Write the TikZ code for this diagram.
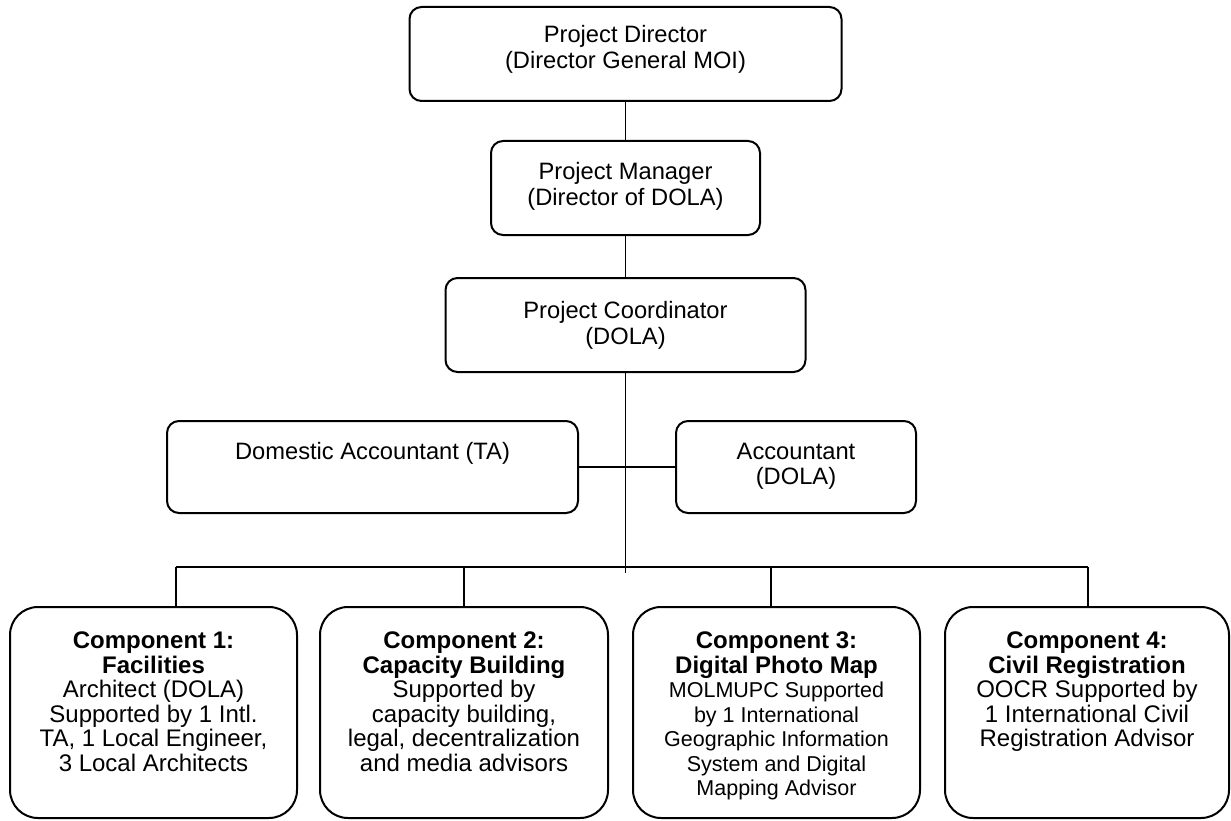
\documentclass[tikz,border=0pt]{standalone}
\usepackage{fontspec}
\setmainfont{Liberation Sans}
\tikzset{
  box/.style={draw, line width=2pt, rounded corners=12pt, inner sep=0pt},
  cbox/.style={draw, line width=2pt, rounded corners=28pt, inner sep=0pt},
  lbl/.style={anchor=north, inner sep=0pt, align=center, font=\fontsize{23.7}{25.5}\selectfont},
  clbl/.style={anchor=north, inner sep=0pt, align=center, font=\fontsize{24}{24.5}\selectfont},
  conn/.style={line width=1.8pt},
}
\newcommand{\smalltxt}[1]{{\fontsize{21.5}{24.3}\selectfont #1}}
\begin{document}
\begin{tikzpicture}[x=1pt,y=-1pt]
\useasboundingbox (0,0) rectangle (1231,821);
% upper boxes
\node[box, minimum width=432pt, minimum height=94pt] (dir) at (625.5,54) {};
\node[box, minimum width=269pt, minimum height=94pt] (mgr) at (625.5,188) {};
\node[box, minimum width=360pt, minimum height=94pt] (coord) at (625.5,325) {};
\node[box, minimum width=411pt, minimum height=92pt] (dom) at (372.5,467) {};
\node[box, minimum width=240pt, minimum height=92pt] (acct) at (796,467) {};
% component boxes
\node[cbox, minimum width=287pt, minimum height=211pt] (c1) at (153.5,712.5) {};
\node[cbox, minimum width=288pt, minimum height=211pt] (c2) at (464,712.5) {};
\node[cbox, minimum width=287pt, minimum height=211pt] (c3) at (776.5,712.5) {};
\node[cbox, minimum width=284pt, minimum height=211pt] (c4) at (1087,712.5) {};
% texts
\node[lbl, yshift=-19.5pt] (tdir) at (dir.north) {Project Director\\(Director General MOI)};
\node[lbl, yshift=-22.5pt] (tmgr) at (mgr.north) {Project Manager\\(Director of DOLA)};
\node[lbl, yshift=-24.5pt] (tcoord) at (coord.north) {Project Coordinator\\(DOLA)};
\node[lbl, yshift=-22.5pt] (tdom) at (dom.north) {Domestic Accountant (TA)};
\node[lbl, yshift=-22.5pt] (tacct) at (acct.north) {Accountant\\(DOLA)};
\node[clbl, yshift=-26pt] (tc1) at (c1.north) {\textbf{Component 1:}\\\textbf{Facilities}\\Architect (DOLA)\\Supported by 1 Intl.\\TA, 1 Local Engineer,\\3 Local Architects};
\node[clbl, yshift=-26pt] (tc2) at (c2.north) {\textbf{Component 2:}\\\textbf{Capacity Building}\\Supported by\\capacity building,\\legal, decentralization\\and media advisors};
\node[clbl, yshift=-26pt] (tc3) at (c3.north) {\textbf{Component 3:}\\\textbf{Digital Photo Map}\\\smalltxt{MOLMUPC Supported}\\\smalltxt{by 1 International}\\\smalltxt{Geographic Information}\\\smalltxt{System and Digital}\\\smalltxt{Mapping Advisor}};
\node[clbl, yshift=-26pt] (tc4) at (c4.north) {\textbf{Component 4:}\\\textbf{Civil Registration}\\OOCR Supported by\\1 International Civil\\Registration Advisor};
% connectors
\coordinate (tEnd) at (625.5,573);
\coordinate (busL) at (176,567);
\coordinate (busR) at (1088,567);
\coordinate (d3) at (771,567);
\draw[conn] (dir.south) -- (mgr.north);
\draw[conn] (mgr.south) -- (coord.north);
\draw[conn] (coord.south) -- (tEnd);
\draw[conn] (dom.east) -- (acct.west);
\draw[conn] (busL) -- (busR);
\draw[conn] (busL) -- (busL |- c1.north);
\draw[conn] (c2.north |- busL) -- (c2.north);
\draw[conn] (d3) -- (d3 |- c3.north);
\draw[conn] (busR) -- (busR |- c4.north);
\end{tikzpicture}
\end{document}
